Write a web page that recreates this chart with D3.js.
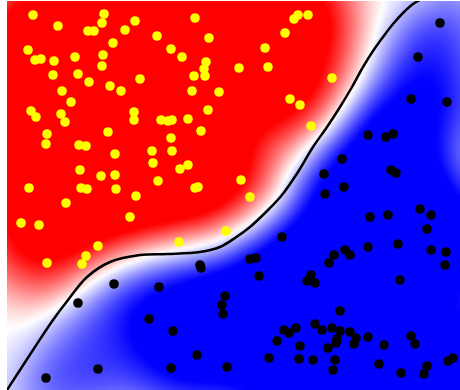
<!DOCTYPE html>
<html>
<head>
<meta charset="utf-8">
<script src="https://cdn.jsdelivr.net/npm/d3@7"></script>
<style>
body { margin: 0; background: #fff; }
svg { display: block; }
</style>
</head>
<body>
<svg width="460" height="390"></svg>
<script>
// class A (yellow) and class B (black) samples, in plot units
const yellowPoints = [
	[33,15],[104,14],[102,23],[58,26],[88,31],[94,31],[135,21],[125,30],[195,18],[157,36],
	[209,38],[113,43],[28,50],[35,60],[41,59],[54,61],[75,57],[103,55],[102,66],[171,49],
	[182,57],[206,62],[204,69],[194,76],[205,76],[53,75],[78,74],[89,82],[140,79],[110,86],
	[121,91],[62,91],[192,91],[219,92],[71,102],[31,111],[36,117],[61,114],[65,122],[134,112],
	[134,120],[161,120],[168,121],[172,120],[188,119],[208,110],[201,131],[108,132],[47,134],[46,144],
	[79,145],[86,146],[171,138],[152,151],[172,151],[115,154],[153,163],[180,169],[188,165],[80,170],
	[101,176],[115,175],[158,181],[29,188],[81,188],[87,189],[116,189],[195,188],[198,187],[136,196],
	[298,15],[294,19],[308,15],[285,33],[265,48],[239,68],[268,67],[332,78],[290,99],[300,105],
	[311,126],[241,180],[250,197],
	[66,203],[21,223],[39,225],[130,217],[179,242],[226,231],[98,246],[86,256],[47,263],[82,264]
];

const blackPoints = [
	[440,23],[418,57],[411,99],[447,102],[368,135],[386,137],[393,134],[342,159],[324,174],[391,170],
	[396,173],[344,187],[325,194],
	[200,265],[201,268],[114,284],[159,287],[78,303],[225,296],[222,305],[223,314],[149,319],[173,331],
	[197,355],[98,369],[171,368],[227,367],[46,378],
	[420,209],[431,215],[370,217],[388,215],[427,229],[282,237],[398,244],[368,247],[431,250],[446,252],
	[445,265],[345,250],[350,255],[334,255],[329,263],[250,259],[256,258],[259,276],[311,275],[307,281],
	[315,283],[400,280],[340,311],[284,330],[289,333],[296,328],[315,324],[322,330],[332,328],[340,331],
	[350,332],[356,338],[354,344],[337,339],[336,343],[277,341],[300,346],[328,348],[368,337],[384,345],
	[411,336],[415,344],[269,358],[299,359],[313,360],[335,360],[333,370],[379,364],[401,373],[427,366],
	[424,374],[448,361],[453,358]
];

// decision boundary
const boundary = [
	[7,390],[20,370],[33,350],[53,320],[68,300],[87,277],[110,262],[140,255],[167,254],[200,252],
	[220,247],[235,238],[250,227],[270,208],[282,195],[298,172],[313,147],[327,127],[340,107],[352,87],
	[363,67],[373,51],[383,37],[393,24],[403,13],[413,4],[420,0]
];

const svg = d3.select("svg");
const plotLeft = 7, plotTop = 1, plotRight = 460, plotBottom = 390;

const x = d3.scaleLinear().domain([7, 460]).range([plotLeft, plotRight]);
const y = d3.scaleLinear().domain([0, 390]).range([0, plotBottom]);

svg.append("defs").append("clipPath").attr("id", "plotclip")
	.append("rect")
		.attr("x", plotLeft).attr("y", plotTop)
		.attr("width", plotRight - plotLeft).attr("height", plotBottom - plotTop);

const plot = svg.append("g").attr("clip-path", "url(#plotclip)");

const boundaryPath = plot.append("path")
	.datum(boundary)
	.attr("fill", "none")
	.attr("stroke", "black")
	.attr("stroke-width", 2.5)
	.attr("d", d3.line()
		.x(function(d) { return x(d[0]); })
		.y(function(d) { return y(d[1]); })
		.curve(d3.curveCatmullRom));

plot.append("g").selectAll("circle")
	.data(yellowPoints)
	.enter().append("circle")
		.attr("cx", function(d) { return x(d[0]); })
		.attr("cy", function(d) { return y(d[1]); })
		.attr("r", 4.8)
		.attr("fill", "#ffff00");

plot.append("g").selectAll("circle")
	.data(blackPoints)
	.enter().append("circle")
		.attr("cx", function(d) { return x(d[0]); })
		.attr("cy", function(d) { return y(d[1]); })
		.attr("r", 4.8)
		.attr("fill", "black");

// background: kernel-smoothed class score, pulled towards the boundary
const bandwidth = 34;
const eps = 3;
const gain = 2.1;
const curveWeight = 0.4;
const step = 3;
const nx = Math.ceil((plotRight - plotLeft) / step);
const ny = Math.ceil((plotBottom - plotTop) / step);

const colour = d3.scaleDiverging()
	.domain([-1, 0, 1])
	.interpolator(d3.piecewise(d3.interpolateRgb, ["#0000ff", "#ffffff", "#ff0000"]))
	.clamp(true);

const ya = yellowPoints.map(d => [x(d[0]), y(d[1])]);
const bl = blackPoints.map(d => [x(d[0]), y(d[1])]);
function density(pts, px, py){
	let s = 0;
	for (const p of pts){
		const dx = px - p[0], dy = py - p[1];
		s += Math.exp(-(dx*dx + dy*dy) / (2*bandwidth*bandwidth));
	}
	return s;
}

const node = boundaryPath.node();
const len = node.getTotalLength();
const samples = d3.range(0, len, 2).map(function(l){
	const p = node.getPointAtLength(l);
	return [p.x, p.y];
});
samples.sort((a, b) => a[0] - b[0]);
const bisectX = d3.bisector(d => d[0]).left;
function signedDistance(px, py){
	let m = Infinity;
	for (const s of samples){
		const dx = px - s[0], dy = py - s[1];
		const d = dx*dx + dy*dy;
		if (d < m) m = d;
	}
	m = Math.sqrt(m);
	if (px > samples[samples.length-1][0]) return -m;
	const i = Math.max(0, Math.min(samples.length - 1, bisectX(samples, px)));
	return py < samples[i][1] ? m : -m;
}

const canvas = document.createElement("canvas");
canvas.width = nx;
canvas.height = ny;
const ctx = canvas.getContext("2d");
const img = ctx.createImageData(nx, ny);
for (let j = 0; j < ny; j++){
	for (let i = 0; i < nx; i++){
		const px = plotLeft + (i + 0.5) * step;
		const py = plotTop + (j + 0.5) * step;
		const sa = density(ya, px, py);
		const sb = density(bl, px, py);
		const conf = (sa + sb) / (sa + sb + eps);
		const k = (sa - sb) / (sa + sb);
		const c = Math.tanh(signedDistance(px, py) / 34);
		const v = gain * conf * ((1 - curveWeight) * k + curveWeight * c);
		const col = d3.rgb(colour(v));
		const o = (j * nx + i) * 4;
		img.data[o] = col.r;
		img.data[o+1] = col.g;
		img.data[o+2] = col.b;
		img.data[o+3] = 255;
	}
}
ctx.putImageData(img, 0, 0);

svg.insert("image", "g")
	.attr("x", plotLeft).attr("y", plotTop)
	.attr("width", plotRight - plotLeft).attr("height", plotBottom - plotTop)
	.attr("preserveAspectRatio", "none")
	.attr("href", canvas.toDataURL());
</script>
</body>
</html>
